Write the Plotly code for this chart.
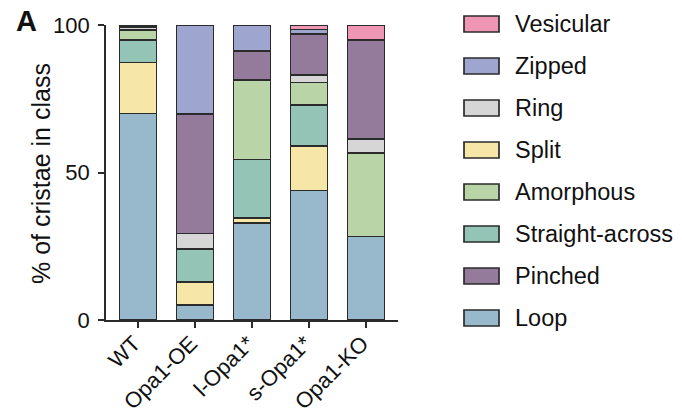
import plotly.graph_objects as go

categories = ["WT", "Opa1-OE", "l-Opa1*", "s-Opa1*", "Opa1-KO"]

# stacking order bottom -> top
loop = [70.0, 5.1, 33.0, 43.9, 28.3]
split = [17.3, 7.9, 1.6, 15.2, 0.0]
straight_across = [7.6, 11.0, 19.8, 13.9, 0.0]
amorphous = [3.5, 0.0, 26.9, 7.5, 28.3]
ring = [0.8, 5.3, 0.0, 2.5, 4.8]
pinched = [0.5, 40.5, 9.9, 13.9, 33.5]
zipped = [0.3, 30.2, 8.8, 1.6, 0.0]
vesicular = [0.0, 0.0, 0.0, 1.5, 5.1]

series_names = ["Loop", "Split", "Straight-across", "Amorphous", "Ring", "Pinched", "Zipped", "Vesicular"]
series_values = [loop, split, straight_across, amorphous, ring, pinched, zipped, vesicular]
series_colors = {
    "Loop": "#97b9cb",
    "Split": "#f6e7a9",
    "Straight-across": "#94c4b6",
    "Amorphous": "#b9d5a7",
    "Ring": "#d6d6d6",
    "Pinched": "#957b9b",
    "Zipped": "#9ea6cf",
    "Vesicular": "#ee96b3",
}
legend_order = ["Vesicular", "Zipped", "Ring", "Split", "Amorphous", "Straight-across", "Pinched", "Loop"]
y_title = "% of cristae in class"

FONT = "Liberation Sans, Arial, sans-serif"
EDGE = "#2b2b2b"

fig = go.Figure()
for name, vals in zip(series_names, series_values):
    fig.add_trace(go.Bar(
        x=categories, y=vals, name=name,
        marker=dict(color=series_colors[name], line=dict(color=EDGE, width=1.7)),
        showlegend=False,
    ))

# page body has an 8px margin, so figure pixels = viewport pixels - 8
OFF = 8
W, H = 682, 414
plot_left, plot_right, plot_top, plot_bottom = 106 - OFF, 398 - OFF, 25 - OFF, 320 - OFF
ml, mr, mt, mb = plot_left, W - plot_right, plot_top, H - plot_bottom
pw, ph = plot_right - plot_left, plot_bottom - plot_top

def px_x(p):
    return (p - OFF - plot_left) / pw

def px_y(p):
    return (plot_bottom - (p - OFF)) / ph

# manual legend (wide swatches like the reference)
for i, name in enumerate(legend_order):
    cy = 24 + 42 * i
    fig.add_shape(type="rect", xref="paper", yref="paper",
                  x0=px_x(464), x1=px_x(499), y0=px_y(cy + 8), y1=px_y(cy - 8),
                  fillcolor=series_colors[name], line=dict(color=EDGE, width=1.7))
    fig.add_annotation(xref="paper", yref="paper", x=px_x(513), y=px_y(cy),
                       text=name, showarrow=False, xanchor="left", yanchor="middle",
                       font=dict(family=FONT, size=23.5, color="#111"))

fig.add_annotation(xref="paper", yref="paper", x=px_x(14), y=px_y(21),
                   text="<b>A</b>", showarrow=False, xanchor="left", yanchor="middle",
                   font=dict(family=FONT, size=29, color="#111"))

# y-axis title
fig.add_annotation(xref="paper", yref="paper", x=px_x(41), y=px_y(174),
                   text=y_title, showarrow=False, textangle=-90,
                   xanchor="center", yanchor="middle",
                   font=dict(family=FONT, size=25, color="#111"))

fig.update_layout(
    width=W, height=H,
    margin=dict(l=ml, r=mr, t=mt, b=mb),
    barmode="stack", bargap=0.35,
    plot_bgcolor="white", paper_bgcolor="white",
    font=dict(family=FONT, size=22, color="#111"),
)
fig.update_xaxes(
    range=[-0.56, 4.56], showline=True, linecolor=EDGE, linewidth=1.7,
    ticks="outside", ticklen=6, tickwidth=1.7, tickcolor=EDGE,
    tickangle=-45, tickfont=dict(size=22), showgrid=False, automargin=False,
    ticklabelstandoff=-6, ticklabelshift=-4,
)
fig.update_yaxes(
    range=[0, 100], tickvals=[0, 50, 100], showline=True, linecolor=EDGE, linewidth=1.7,
    ticks="outside", ticklen=6, tickwidth=1.7, tickcolor=EDGE, ticklabelstandoff=4,
    tickfont=dict(size=22), showgrid=False, zeroline=False, automargin=False,
)

fig.write_html("out.html")
